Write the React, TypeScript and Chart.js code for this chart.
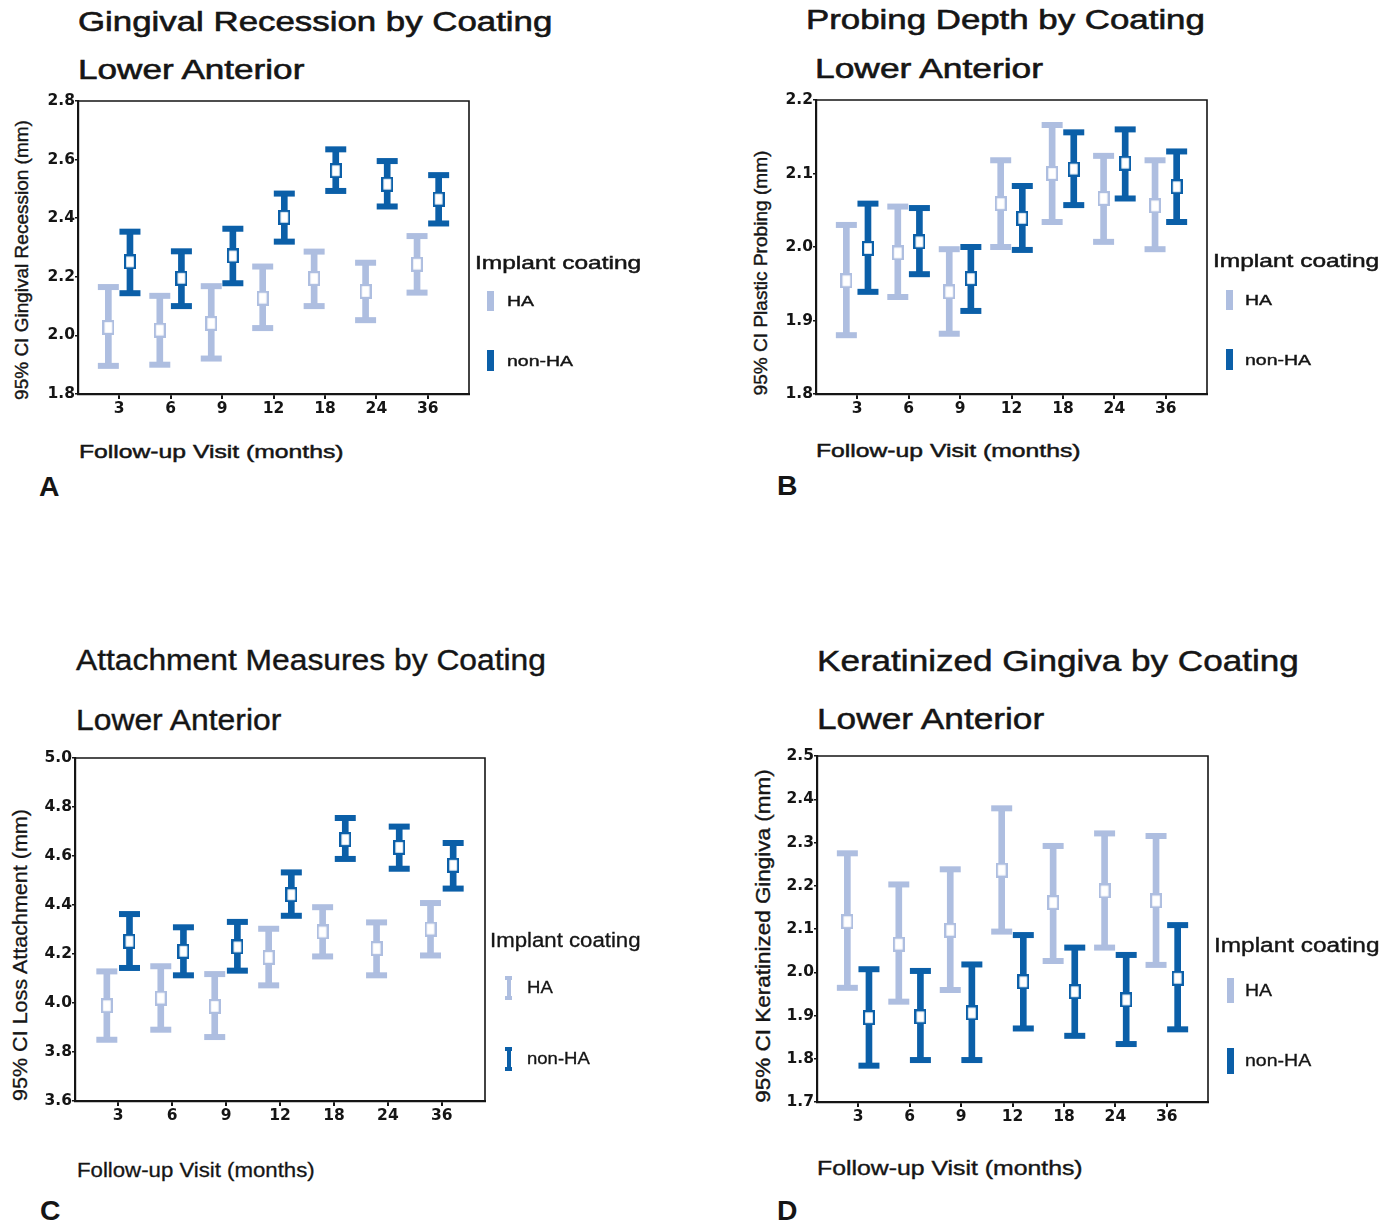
import React, { useEffect, useRef } from 'react';
import { Chart, registerables } from 'chart.js';
Chart.register(...registerables);

// ---------- data ----------
const MONTHS = ['3', '6', '9', '12', '18', '24', '36'];
const GROUPS = ['HA', 'non-HA'];
const LEGEND_TITLE = 'Implant coating';
const X_TITLE = 'Follow-up Visit (months)';

// A: Gingival recession
const A_HA_MEAN = [2.027, 2.018, 2.041, 2.127, 2.194, 2.150, 2.243];
const A_HA_LOW = [1.896, 1.900, 1.921, 2.025, 2.100, 2.052, 2.146];
const A_HA_HIGH = [2.165, 2.135, 2.168, 2.235, 2.286, 2.248, 2.339];
const A_NON_MEAN = [2.251, 2.195, 2.271, 2.403, 2.562, 2.516, 2.465];
const A_NON_LOW = [2.144, 2.100, 2.178, 2.320, 2.493, 2.440, 2.382];
const A_NON_HIGH = [2.354, 2.287, 2.364, 2.484, 2.635, 2.595, 2.547];
const A_Y_TICKS = [1.8, 2.0, 2.2, 2.4, 2.6, 2.8];

// B: Probing depth
const B_HA_MEAN = [1.954, 1.992, 1.939, 2.059, 2.100, 2.066, 2.056];
const B_HA_LOW = [1.880, 1.932, 1.882, 2.000, 2.034, 2.007, 1.997];
const B_HA_HIGH = [2.030, 2.055, 1.997, 2.118, 2.166, 2.124, 2.118];
const B_NON_MEAN = [1.998, 2.007, 1.957, 2.039, 2.106, 2.114, 2.082];
const B_NON_LOW = [1.939, 1.963, 1.913, 1.996, 2.057, 2.066, 2.034];
const B_NON_HIGH = [2.059, 2.053, 2.000, 2.083, 2.156, 2.160, 2.130];
const B_Y_TICKS = [1.8, 1.9, 2.0, 2.1, 2.2];

// C: Attachment loss
const C_HA_MEAN = [3.989, 4.020, 3.986, 4.186, 4.290, 4.222, 4.302];
const C_HA_LOW = [3.850, 3.891, 3.861, 4.072, 4.190, 4.113, 4.194];
const C_HA_HIGH = [4.129, 4.150, 4.118, 4.303, 4.391, 4.329, 4.408];
const C_NON_MEAN = [4.252, 4.211, 4.229, 4.442, 4.667, 4.635, 4.562];
const C_NON_LOW = [4.143, 4.113, 4.132, 4.356, 4.588, 4.548, 4.467];
const C_NON_HIGH = [4.363, 4.309, 4.331, 4.533, 4.755, 4.720, 4.653];
const C_Y_TICKS = [3.6, 3.8, 4.0, 4.2, 4.4, 4.6, 4.8, 5.0];

// D: Keratinized gingiva
const D_HA_MEAN = [2.117, 2.065, 2.097, 2.236, 2.161, 2.188, 2.165];
const D_HA_LOW = [1.964, 1.932, 1.959, 2.094, 2.026, 2.057, 2.017];
const D_HA_HIGH = [2.275, 2.203, 2.238, 2.379, 2.292, 2.321, 2.315];
const D_NON_MEAN = [1.895, 1.897, 1.906, 1.978, 1.955, 1.936, 1.986];
const D_NON_LOW = [1.784, 1.797, 1.797, 1.870, 1.853, 1.834, 1.868];
const D_NON_HIGH = [2.007, 2.003, 2.018, 2.086, 2.057, 2.040, 2.109];
const D_Y_TICKS = [1.7, 1.8, 1.9, 2.0, 2.1, 2.2, 2.3, 2.4, 2.5];

// ---------- styles ----------
const COLORS = ['#aebee0', '#0b5fa8'];
const INK = '#151515';
const FONT = '"Liberation Sans", Arial, Helvetica, sans-serif';
const TICK_FONT = '"DejaVu Sans", "Liberation Sans", Arial, sans-serif';
const DODGE = 0.21;
const X_MIN = 0.2;
const X_MAX = 7.8;
const YW = 50;
const XH = 34;
const PT = 12;
const PR = 8;

type T = { x: number; cy: number; size: number; sx: number; bold?: boolean; st?: number };
type Panel = {
  key: string;
  box: { L: number; R: number; T: number; B: number };
  yTicks: number[];
  ha: number[][];
  non: number[][];
  title: string;
  titleT: T;
  subT: T;
  yTitle: string;
  yT: T;
  legT: T;
  haT: T;
  nonT: T;
  swX: number;
  haSw: [number, number];
  nonSw: [number, number];
  capped?: boolean;
  xT: T;
  letterT: T;
};

const PANELS: Panel[] = [
  {
    key: 'A',
    box: { L: 78, R: 469, T: 101, B: 394 },
    yTicks: A_Y_TICKS,
    ha: [A_HA_MEAN, A_HA_LOW, A_HA_HIGH],
    non: [A_NON_MEAN, A_NON_LOW, A_NON_HIGH],
    title: 'Gingival Recession by Coating',
    titleT: { x: 78, cy: 22, size: 27, sx: 1.29, st: 0.6 },
    subT: { x: 78, cy: 70, size: 27, sx: 1.3, st: 0.6 },
    yTitle: '95% CI Gingival Recession (mm)',
    yT: { x: 21, cy: 260, size: 19, sx: 1.0, st: 0.4 },
    legT: { x: 475, cy: 262, size: 19, sx: 1.29, st: 0.5 },
    haT: { x: 507, cy: 300, size: 15, sx: 1.3, st: 0.4 },
    nonT: { x: 507, cy: 360, size: 15, sx: 1.3, st: 0.4 },
    swX: 487,
    haSw: [291, 311],
    nonSw: [350, 371],
    xT: { x: 79, cy: 451, size: 19, sx: 1.3, st: 0.5 },
    letterT: { x: 39, cy: 487, size: 27, sx: 1.05, bold: true },
  },
  {
    key: 'B',
    box: { L: 816, R: 1207, T: 100, B: 394 },
    yTicks: B_Y_TICKS,
    ha: [B_HA_MEAN, B_HA_LOW, B_HA_HIGH],
    non: [B_NON_MEAN, B_NON_LOW, B_NON_HIGH],
    title: 'Probing Depth by Coating',
    titleT: { x: 806, cy: 20, size: 27, sx: 1.29, st: 0.6 },
    subT: { x: 815, cy: 69, size: 27, sx: 1.31, st: 0.6 },
    yTitle: '95% CI Plastic Probing (mm)',
    yT: { x: 761, cy: 273, size: 18, sx: 1.06, st: 0.4 },
    legT: { x: 1213, cy: 260, size: 19, sx: 1.29, st: 0.5 },
    haT: { x: 1245, cy: 299, size: 15, sx: 1.3, st: 0.4 },
    nonT: { x: 1245, cy: 359, size: 15, sx: 1.3, st: 0.4 },
    swX: 1226,
    haSw: [290, 310],
    nonSw: [349, 370],
    xT: { x: 816, cy: 450, size: 19, sx: 1.3, st: 0.5 },
    letterT: { x: 777, cy: 486, size: 27, sx: 1.05, bold: true },
  },
  {
    key: 'C',
    box: { L: 75, R: 485, T: 758, B: 1101 },
    yTicks: C_Y_TICKS,
    ha: [C_HA_MEAN, C_HA_LOW, C_HA_HIGH],
    non: [C_NON_MEAN, C_NON_LOW, C_NON_HIGH],
    title: 'Attachment Measures by Coating',
    titleT: { x: 76, cy: 660, size: 29, sx: 1.096, st: 0.4 },
    subT: { x: 76, cy: 720, size: 29, sx: 1.098, st: 0.4 },
    yTitle: '95% CI Loss Attachment (mm)',
    yT: { x: 20, cy: 955, size: 20.5, sx: 1.05, st: 0.3 },
    legT: { x: 490, cy: 940, size: 20, sx: 1.11, st: 0.3 },
    haT: { x: 527, cy: 987, size: 17, sx: 1.09, st: 0.3 },
    nonT: { x: 527, cy: 1058, size: 17, sx: 1.09, st: 0.3 },
    swX: 505,
    haSw: [976, 1000],
    nonSw: [1047, 1071],
    capped: true,
    xT: { x: 77, cy: 1170, size: 20, sx: 1.11, st: 0.3 },
    letterT: { x: 40, cy: 1211, size: 27, sx: 1.05, bold: true },
  },
  {
    key: 'D',
    box: { L: 817, R: 1208, T: 756, B: 1102 },
    yTicks: D_Y_TICKS,
    ha: [D_HA_MEAN, D_HA_LOW, D_HA_HIGH],
    non: [D_NON_MEAN, D_NON_LOW, D_NON_HIGH],
    title: 'Keratinized Gingiva by Coating',
    titleT: { x: 817, cy: 661, size: 29, sx: 1.21, st: 0.5 },
    subT: { x: 817, cy: 719, size: 29, sx: 1.215, st: 0.5 },
    yTitle: '95% CI Keratinized Gingiva (mm)',
    yT: { x: 762, cy: 936, size: 21, sx: 1.07, st: 0.4 },
    legT: { x: 1214, cy: 945, size: 20, sx: 1.22, st: 0.4 },
    haT: { x: 1245, cy: 991, size: 16, sx: 1.22, st: 0.3 },
    nonT: { x: 1245, cy: 1061, size: 16, sx: 1.22, st: 0.3 },
    swX: 1227,
    haSw: [978, 1003],
    nonSw: [1048, 1074],
    xT: { x: 817, cy: 1168, size: 20.5, sx: 1.21, st: 0.4 },
    letterT: { x: 777, cy: 1211, size: 27, sx: 1.05, bold: true },
  },
];

function makeMarker(color: string) {
  const c = document.createElement('canvas');
  c.width = 12;
  c.height = 15;
  const g = c.getContext('2d')!;
  g.fillStyle = '#ffffff';
  g.fillRect(1, 1, 10, 13);
  g.strokeStyle = color;
  g.lineWidth = 2.2;
  g.strokeRect(1.1, 1.1, 9.8, 12.8);
  return c;
}

const boxPlugin = {
  id: 'plotBox',
  afterDraw(chart: any) {
    const { ctx, chartArea } = chart;
    const { left, top, right, bottom } = chartArea;
    ctx.save();
    ctx.strokeStyle = INK;
    ctx.lineWidth = 1.6;
    ctx.beginPath();
    ctx.moveTo(left, top);
    ctx.lineTo(right, top);
    ctx.lineTo(right, bottom);
    ctx.stroke();
    ctx.restore();
  },
};

function ErrorChart({ p }: { p: Panel }) {
  const ref = useRef<HTMLCanvasElement>(null);
  const { L, R, T: top, B } = p.box;
  const w = R - L + YW + PR;
  const h = B - top + PT + XH;
  useEffect(() => {
    const datasets: any[] = [];
    [p.ha, p.non].forEach((g, gi) => {
      const [mean, low, high] = g;
      const off = gi === 0 ? -DODGE : DODGE;
      const col = COLORS[gi];
      datasets.push({
        type: 'bar',
        label: GROUPS[gi],
        data: low.map((lo, i) => ({ x: i + 1 + off, y: [lo, high[i]] })),
        backgroundColor: col,
        borderWidth: 0,
        barThickness: 6,
        grouped: false,
        order: 3,
      });
      datasets.push({
        type: 'scatter',
        label: GROUPS[gi] + ' CI',
        data: [
          ...low.map((v, i) => ({ x: i + 1 + off, y: v })),
          ...high.map((v, i) => ({ x: i + 1 + off, y: v })),
        ],
        pointStyle: 'line',
        pointRadius: 10.5,
        pointHoverRadius: 10.5,
        borderWidth: 6,
        borderColor: col,
        order: 2,
      });
      datasets.push({
        type: 'scatter',
        label: GROUPS[gi] + ' mean',
        data: mean.map((v, i) => ({ x: i + 1 + off, y: v })),
        pointStyle: makeMarker(col),
        order: 1,
      });
    });
    const tickFont = { family: TICK_FONT, size: 15.5, weight: 'bold' as const };
    const chart = new Chart(ref.current!, {
      type: 'bar',
      data: { datasets },
      plugins: [boxPlugin],
      options: {
        animation: false,
        responsive: false,
        devicePixelRatio: 1,
        events: [],
        layout: { autoPadding: false, padding: { top: PT, right: PR, left: 0, bottom: 0 } },
        plugins: { legend: { display: false }, tooltip: { enabled: false }, title: { display: false } },
        scales: {
          x: {
            type: 'linear',
            min: X_MIN,
            max: X_MAX,
            offset: false,
            afterBuildTicks: (s: any) => {
              s.ticks = MONTHS.map((_, i) => ({ value: i + 1 }));
            },
            afterFit: (s: any) => {
              s.height = XH;
              s.paddingLeft = 0;
              s.paddingRight = 0;
            },
            ticks: {
              callback: (_v: any, i: number) => MONTHS[i],
              font: tickFont,
              color: INK,
              padding: 1,
              autoSkip: false,
              maxRotation: 0,
            },
            grid: { display: true, drawOnChartArea: false, drawTicks: true, tickLength: 5, color: INK, lineWidth: 2, offset: false },
            border: { display: true, color: INK, width: 2.2 },
          },
          y: {
            type: 'linear',
            min: p.yTicks[0],
            max: p.yTicks[p.yTicks.length - 1],
            afterBuildTicks: (s: any) => {
              s.ticks = p.yTicks.map((v) => ({ value: v }));
            },
            afterFit: (s: any) => {
              s.width = YW;
              s.paddingTop = 0;
              s.paddingBottom = 0;
            },
            ticks: {
              callback: (v: any) => Number(v).toFixed(1),
              font: tickFont,
              color: INK,
              padding: 0,
              autoSkip: false,
            },
            grid: { display: true, drawOnChartArea: false, drawTicks: true, tickLength: 3, color: INK, lineWidth: 1.5 },
            border: { display: true, color: INK, width: 2.2 },
          },
        },
      } as any,
    });
    return () => chart.destroy();
  }, []);
  return (
    <canvas
      ref={ref}
      width={w}
      height={h}
      style={{ position: 'absolute', left: L - YW, top: top - PT, width: w, height: h }}
    />
  );
}

function Txt({ t, children }: { t: T; children: React.ReactNode }) {
  return (
    <div
      style={{
        position: 'absolute',
        left: t.x,
        top: t.cy,
        fontFamily: FONT,
        fontSize: t.size,
        fontWeight: t.bold ? 'bold' : 'normal',
        lineHeight: 1,
        whiteSpace: 'nowrap',
        color: INK,
        WebkitTextStroke: t.st ? `${t.st}px ${INK}` : undefined,
        transform: `translateY(-50%) scaleX(${t.sx})`,
        transformOrigin: 'left center',
      }}
    >
      {children}
    </div>
  );
}

function VTxt({ t, children }: { t: T; children: React.ReactNode }) {
  return (
    <div
      style={{
        position: 'absolute',
        left: t.x,
        top: t.cy,
        fontFamily: FONT,
        fontSize: t.size,
        lineHeight: 1,
        whiteSpace: 'nowrap',
        color: INK,
        WebkitTextStroke: t.st ? `${t.st}px ${INK}` : undefined,
        transform: `translate(-50%, -50%) rotate(-90deg) scaleX(${t.sx})`,
        transformOrigin: 'center center',
      }}
    >
      {children}
    </div>
  );
}

function Swatch({ x, y0, y1, color, capped }: { x: number; y0: number; y1: number; color: string; capped?: boolean }) {
  return (
    <div style={{ position: 'absolute', left: x, top: y0, width: 7, height: y1 - y0 }}>
      <div style={{ position: 'absolute', left: capped ? 1.5 : 0, width: capped ? 4 : 7, top: 0, bottom: 0, background: color }} />
      {capped && (
        <>
          <div style={{ position: 'absolute', left: 0, width: 7, top: 0, height: 4, background: color }} />
          <div style={{ position: 'absolute', left: 0, width: 7, bottom: 0, height: 4, background: color }} />
        </>
      )}
    </div>
  );
}

function PanelView({ p }: { p: Panel }) {
  return (
    <>
      <Txt t={p.titleT}>{p.title}</Txt>
      <Txt t={p.subT}>Lower Anterior</Txt>
      <VTxt t={p.yT}>{p.yTitle}</VTxt>
      <ErrorChart p={p} />
      <Txt t={p.legT}>{LEGEND_TITLE}</Txt>
      <Swatch x={p.swX} y0={p.haSw[0]} y1={p.haSw[1]} color={COLORS[0]} capped={p.capped} />
      <Txt t={p.haT}>{GROUPS[0]}</Txt>
      <Swatch x={p.swX} y0={p.nonSw[0]} y1={p.nonSw[1]} color={COLORS[1]} capped={p.capped} />
      <Txt t={p.nonT}>{GROUPS[1]}</Txt>
      <Txt t={p.xT}>{X_TITLE}</Txt>
      <Txt t={p.letterT}>{p.key}</Txt>
    </>
  );
}

export default function App() {
  return (
    <div
      style={{
        position: 'absolute',
        left: 0,
        top: 0,
        width: 1395,
        height: 1224,
        background: '#ffffff',
        overflow: 'hidden',
      }}
    >
      {PANELS.map((p) => (
        <PanelView key={p.key} p={p} />
      ))}
    </div>
  );
}
